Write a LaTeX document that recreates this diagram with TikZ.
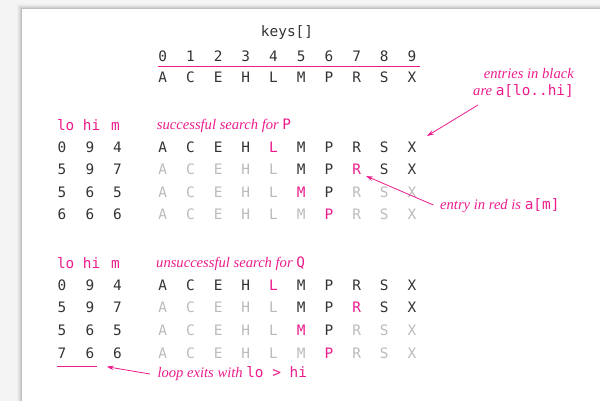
\documentclass[tikz,border=0pt]{standalone}
\usepackage{fontspec}
\setmainfont{Liberation Serif}
\setmonofont{DejaVu Sans Mono}
\usetikzlibrary{arrows.meta}
\definecolor{pinkc}{HTML}{EC1C8C}
\definecolor{inkc}{HTML}{333333}
\definecolor{greyc}{HTML}{BBBBBB}
\definecolor{bgc}{HTML}{F4F4F4}
\newcommand\keyletter[1]{\ifcase#1 A\or C\or E\or H\or L\or M\or P\or R\or S\or X\fi}
\newcommand\keyrow[3]{%
  \foreach \c [count=\i from 0] in {#3} {
    \node[mono,text=\c] (#1-\i) at ({162.7+27.7*\i},#2) {\keyletter{\i}};
  }}
\newcommand\lhmrow[5]{%
  \node[mono] (#1-lo) at (62,#2) {#3};
  \node[mono] (#1-hi) at (90,#2) {#4};
  \node[mono] (#1-m) at (117.5,#2) {#5};}
\newcommand\lhmhead[2]{%
  \node[mono,text=pinkc] (#1-lo) at (65.7,#2) {lo};
  \node[mono,text=pinkc] (#1-hi) at (91.5,#2) {hi};
  \node[mono,text=pinkc] (#1-m) at (115.5,#2) {m};}
\newcommand\pcode[1]{\textcolor{pinkc}{\upshape\fontsize{14.4}{16}\selectfont\ttfamily #1}}
\begin{document}
\begin{tikzpicture}[x=1pt,y=-1pt,
  mono/.style={font=\fontsize{14.4}{16}\selectfont\ttfamily, inner sep=0pt, anchor=base, text=inkc},
  note/.style={font=\fontsize{14.6}{18}\selectfont\itshape, inner sep=0pt, text=pinkc},
  pointer/.style={draw=pinkc, line width=0.8pt, -{Stealth[length=7pt,width=4.5pt]}},
  pinkrule/.style={draw=pinkc, line width=0.9pt}]
\useasboundingbox (0,0) rectangle (600,401);
\fill[bgc] (0,0) rectangle (600,401);
\foreach \d/\o in {5/0.02,4/0.03,3/0.04,2/0.06,1/0.08}
  \fill[black,opacity=\o] (22-\d,9-\d) rectangle (601,402);
\fill[white] (22,9) rectangle (601,402);

% header array
\node[mono] (keys) at (287,37) {keys[]};
\foreach \i in {0,...,9}
  \node[mono] (idx-\i) at ({162.7+27.7*\i},61.3) {\i};
\keyrow{top}{83}{inkc,inkc,inkc,inkc,inkc,inkc,inkc,inkc,inkc,inkc}
\coordinate (rulel) at (158,66);
\coordinate (ruler) at (420,66);
\draw[pinkrule] (rulel) -- (ruler);

% successful search
\lhmhead{h1}{131}
\node[note,anchor=base west] (t1) at (156.7,130) {successful search for \pcode{P}};
\lhmrow{a1}{152.7}{0}{9}{4}
\keyrow{s1}{152.7}{inkc,inkc,inkc,inkc,pinkc,inkc,inkc,inkc,inkc,inkc}
\lhmrow{a2}{175}{5}{9}{7}
\keyrow{s2}{175}{greyc,greyc,greyc,greyc,greyc,inkc,inkc,pinkc,inkc,inkc}
\lhmrow{a3}{197.3}{5}{6}{5}
\keyrow{s3}{197.3}{greyc,greyc,greyc,greyc,greyc,pinkc,inkc,greyc,greyc,greyc}
\lhmrow{a4}{219.8}{6}{6}{6}
\keyrow{s4}{219.8}{greyc,greyc,greyc,greyc,greyc,greyc,pinkc,greyc,greyc,greyc}

% unsuccessful search
\lhmhead{h2}{268.5}
\node[note,anchor=base west] (t2) at (156,267.5) {unsuccessful search for \pcode{Q}};
\lhmrow{b1}{290}{0}{9}{4}
\keyrow{u1}{290}{inkc,inkc,inkc,inkc,pinkc,inkc,inkc,inkc,inkc,inkc}
\lhmrow{b2}{312.7}{5}{9}{7}
\keyrow{u2}{312.7}{greyc,greyc,greyc,greyc,greyc,inkc,inkc,pinkc,inkc,inkc}
\lhmrow{b3}{335.5}{5}{6}{5}
\keyrow{u3}{335.5}{greyc,greyc,greyc,greyc,greyc,pinkc,inkc,greyc,greyc,greyc}
\lhmrow{b4}{358.5}{7}{6}{6}
\keyrow{u4}{358.5}{greyc,greyc,greyc,greyc,greyc,greyc,pinkc,greyc,greyc,greyc}

% exit underline
\coordinate (ul) at (57,366);
\coordinate (ur) at (97,366);
\draw[pinkrule] (ul) -- (ur);

% annotations
\node[note,anchor=base east,align=right] (n1) at (574,96) {entries in black\\[-0.5pt]are \pcode{a[lo..hi]}};
\coordinate (n1s) at (478,105);
\coordinate (n1t) at (427,136);
\draw[pointer] (n1s) -- (n1t);

\node[note,anchor=base west] (n2) at (440,210) {entry in red is \pcode{a[m]}};
\coordinate (n2s) at (433.3,205);
\coordinate (n2t) at (366,176);
\draw[pointer] (n2s) -- (n2t);

\node[note,anchor=base west] (n3) at (157.3,377.5) {loop exits with \pcode{lo > hi}};
\coordinate (n3s) at (150,374);
\coordinate (n3t) at (106.7,366.7);
\draw[pointer] (n3s) -- (n3t);
\end{tikzpicture}
\end{document}
